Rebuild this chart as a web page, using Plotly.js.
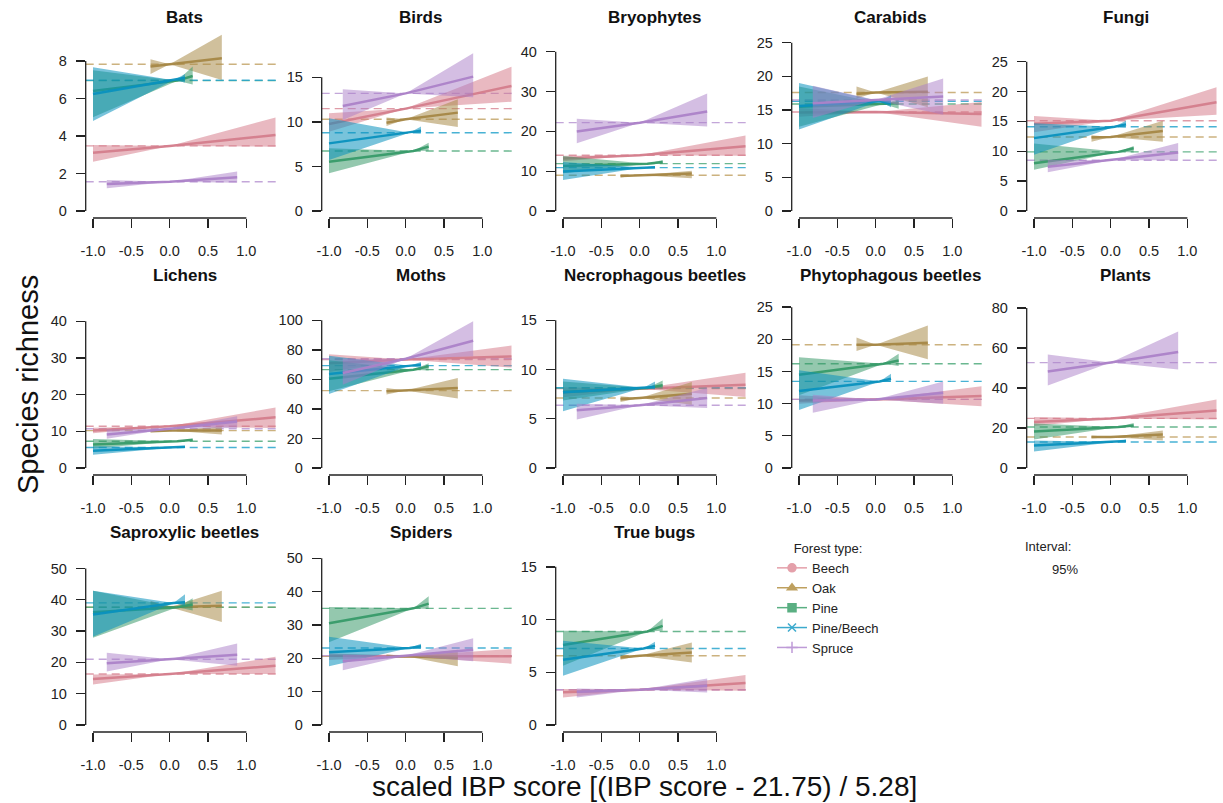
<!DOCTYPE html>
<html>
<head>
<meta charset="utf-8">
<script src="https://cdn.plot.ly/plotly-3.0.1.min.js"></script>
<style>html,body{margin:0;padding:0;background:#fff;}#chart{width:1223px;height:803px;}</style>
</head>
<body>
<div id="chart"></div>
<script>
// ---------------- DATA ----------------
const forestTypes = ['Beech', 'Oak', 'Pine', 'Pine/Beech', 'Spruce'];
// x extent of each forest type (scaled IBP score) and x where the CI is narrowest
const xStart = [-1.0, -0.25, -1.0, -1.0, -0.82];
const xEnd   = [1.38, 0.68, 0.30, 0.20, 0.88];
const xPivot = [0.0, 0.0, 0.1, 0.05, 0.0];

const xTickVals = [-1, -0.5, 0, 0.5, 1];
const xTickText = ['-1.0', '-0.5', '0.0', '0.5', '1.0'];

const panelNames = ['Bats', 'Birds', 'Bryophytes', 'Carabids', 'Fungi',
  'Lichens', 'Moths', 'Necrophagous beetles', 'Phytophagous beetles', 'Plants',
  'Saproxylic beetles', 'Spiders', 'True bugs'];
const yTickStep = [2, 5, 10, 5, 5, 10, 20, 5, 5, 20, 10, 10, 5];
const yTickMax  = [8, 15, 40, 25, 25, 40, 100, 15, 25, 80, 50, 50, 15];
const yLimMax   = [9.33, 19.64, 43.97, 26.0, 29.3, 47.7, 118.5, 17.78, 27.2, 87.5, 55.9, 52.5, 16.6];

// rows: Beech, Oak, Pine, Pine/Beech, Spruce
// cols: mean, line at start, line at end, CI low start, CI high start, CI low end, CI high end
const bats = [
  [3.47, 3.11, 4.05, 2.63, 3.52, 3.43, 4.98],
  [7.82, 7.70, 8.14, 7.31, 8.09, 6.99, 9.39],
  [6.95, 6.40, 7.20, 5.00, 7.50, 6.75, 7.70],
  [6.97, 6.24, 7.10, 4.80, 7.66, 6.85, 7.30],
  [1.56, 1.44, 1.80, 1.21, 1.65, 1.51, 2.10]];
const birds = [
  [11.49, 9.76, 14.03, 8.9, 10.96, 12.27, 16.2],
  [10.29, 9.9, 11.04, 9.54, 10.5, 9.43, 12.53],
  [6.73, 5.54, 7.22, 4.23, 7.03, 6.77, 7.67],
  [8.79, 7.59, 9.02, 5.72, 10.4, 8.72, 9.47],
  [13.2, 11.78, 15.08, 10.21, 13.65, 12.76, 17.7]];
const bryophytes = [
  [14.0, 13.2, 16.3, 12.5, 13.9, 13.9, 19.0],
  [9.0, 8.8, 9.4, 8.4, 9.2, 8.2, 10.1],
  [11.9, 11.3, 12.3, 9.5, 13.8, 11.8, 12.8],
  [10.9, 9.9, 11.0, 7.8, 12.3, 10.7, 11.3],
  [22.2, 20.0, 25.0, 17.0, 23.2, 21.2, 29.5]];
const carabids = [
  [14.7, 14.65, 14.4, 14.0, 15.3, 12.5, 16.2],
  [17.6, 17.4, 17.7, 16.7, 18.5, 15.4, 20.0],
  [15.9, 15.5, 16.0, 12.5, 18.5, 15.2, 16.6],
  [16.3, 15.6, 16.0, 12.1, 19.0, 15.4, 17.2],
  [16.5, 16.0, 17.0, 13.8, 18.6, 14.3, 19.7]];
const fungi = [
  [15.1, 14.6, 18.2, 13.2, 15.9, 16.1, 20.7],
  [12.4, 12.3, 13.4, 11.6, 12.7, 11.6, 15.1],
  [9.9, 8.0, 10.5, 6.9, 11.3, 9.8, 10.9],
  [14.1, 12.2, 14.5, 9.4, 14.7, 14.0, 15.1],
  [8.5, 7.4, 9.8, 6.5, 8.6, 8.5, 11.4]];
const lichens = [
  [11.4, 10.2, 13.8, 9.5, 11.0, 10.9, 16.5],
  [10.2, 10.0, 10.2, 9.8, 10.3, 9.1, 11.3],
  [7.3, 6.4, 7.7, 5.3, 7.9, 7.3, 8.0],
  [5.6, 4.7, 5.8, 3.6, 5.9, 5.6, 6.0],
  [10.7, 9.1, 12.7, 8.0, 10.5, 10.9, 14.1]];
const moths = [
  [73.5, 71, 75.5, 65, 77, 68, 83],
  [52.4, 51.9, 54.2, 49.7, 54.2, 47, 61],
  [66.6, 60.5, 68.8, 52, 73, 66, 71],
  [69.3, 63.7, 70, 50.1, 76, 67.7, 71.8],
  [74.0, 64.3, 86.2, 56.4, 74, 75.6, 99.3]];
const necrophagous = [
  [8.06, 7.7, 8.47, 7.2, 8.2, 7.21, 9.68],
  [7.11, 6.98, 7.55, 6.7, 7.3, 6.43, 8.74],
  [8.13, 7.72, 8.4, 6.87, 8.8, 8.06, 8.9],
  [8.16, 7.7, 8.23, 5.76, 9.07, 8.0, 8.8],
  [6.37, 5.86, 7.11, 4.94, 6.54, 6.1, 8.13]];
const phytophagous = [
  [10.66, 10.5, 11.18, 10.0, 11.3, 9.6, 12.7],
  [19.15, 19.15, 19.46, 18.2, 20.3, 16.9, 22.15],
  [16.2, 14.5, 16.7, 11.3, 17.2, 15.84, 17.75],
  [13.46, 11.96, 13.87, 9.0, 15.2, 13.35, 14.65],
  [10.66, 10.5, 11.7, 8.6, 11.4, 10.0, 13.46]];
const plants = [
  [24.8, 23.0, 28.8, 21, 25.5, 24.3, 34.2],
  [15.5, 15.5, 16.7, 14.8, 16.2, 13.8, 18.7],
  [20.5, 18.3, 21.3, 14.3, 22.2, 20.5, 22.5],
  [13.0, 11.3, 13.5, 8.3, 13.8, 12.7, 14.2],
  [52.7, 48.3, 58, 41.3, 56.7, 49.2, 68.3]];
const saproxylic = [
  [16.3, 14.7, 18.9, 12.9, 16.1, 16.3, 21.8],
  [37.6, 37.6, 38.1, 36.6, 39.7, 32.9, 42.9],
  [37.6, 36.0, 38.5, 27.9, 42.9, 36.6, 40.5],
  [39.0, 35.3, 39.2, 28.2, 42.9, 38.1, 41.8],
  [21.0, 19.7, 22.4, 17.1, 23.1, 18.9, 26.0]];
const spiders = [
  [20.6, 20.8, 20.6, 19.5, 21.5, 18.4, 22.8],
  [20.6, 20.5, 20.1, 20.0, 21.2, 17.6, 22.6],
  [35.0, 30.5, 36.4, 24.8, 35.4, 34.8, 38.6],
  [23.1, 21.8, 23.6, 17.6, 26.5, 22.8, 24.4],
  [20.8, 19.1, 22.6, 16.4, 21.1, 19.1, 26.0]];
const trueBugs = [
  [3.35, 3.1, 3.98, 2.62, 3.41, 3.25, 4.74],
  [6.57, 6.41, 6.88, 6.19, 6.63, 5.94, 7.83],
  [8.87, 7.58, 9.41, 5.62, 8.94, 8.94, 10.1],
  [7.26, 6.19, 7.52, 4.67, 7.99, 7.2, 7.9],
  [3.35, 3.16, 3.73, 2.62, 3.47, 3.09, 4.42]];

const panelData = [bats, birds, bryophytes, carabids, fungi, lichens, moths,
  necrophagous, phytophagous, plants, saproxylic, spiders, trueBugs];

// ---------------- STYLE ----------------
const lineColors = ['rgba(212,125,140,0.95)', 'rgba(165,135,70,0.95)', 'rgba(55,155,105,0.95)', 'rgba(10,145,190,0.95)', 'rgba(172,130,200,0.95)'];
const bandColors = ['rgba(212,115,132,0.50)', 'rgba(170,140,75,0.55)', 'rgba(50,150,100,0.52)', 'rgba(10,145,190,0.55)', 'rgba(170,125,200,0.50)'];
const dashColors = ['rgba(215,130,145,0.8)', 'rgba(195,165,105,0.85)', 'rgba(80,170,125,0.85)', 'rgba(40,165,205,0.85)', 'rgba(185,150,210,0.85)'];
const legendColors = ['rgb(228,160,170)', 'rgb(190,160,95)', 'rgb(90,175,130)', 'rgb(60,170,205)', 'rgb(190,155,215)'];
const symbols = ['circle', 'triangle-up', 'square', 'x-thin-open', 'cross-thin-open'];
const FONT = 'Liberation Sans, Arial, sans-serif';
const AX = '#222';

const W = 1223, H = 803;
const colLeft = [85.7, 321.7, 555.7, 791.7, 1026.7];
const plotW = 194.4;
const rowBottom = [218, 475, 732];
const plotH = 189;
const xRange = [-1.095, 1.44];

const traces = [];
const shapes = [];
const annotations = [];
const layout = {
  width: W, height: H,
  margin: {l: 0, r: 0, t: 0, b: 0},
  paper_bgcolor: '#fff', plot_bgcolor: 'rgba(0,0,0,0)',
  font: {family: FONT, color: AX},
  showlegend: true,
  legend: {
    x: 772 / W, y: 1 - 536 / H, xanchor: 'left', yanchor: 'top',
    bgcolor: 'rgba(0,0,0,0)',
    font: {family: FONT, size: 13, color: '#222'},
    title: {text: 'Forest type:', side: 'top center', font: {family: FONT, size: 13, color: '#222'}},
    tracegroupgap: 0, itemwidth: 30
  }
};

panelNames.forEach((name, i) => {
  const col = i % 5, row = Math.floor(i / 5);
  const xa = i === 0 ? 'x' : 'x' + (i + 1);
  const ya = i === 0 ? 'y' : 'y' + (i + 1);
  const left = colLeft[col], bottom = rowBottom[row], top = bottom - plotH;
  const M = yLimMax[i];
  const yTicks = [];
  for (let v = 0; v <= yTickMax[i] + 1e-9; v += yTickStep[i]) yTicks.push(v);

  layout['xaxis' + (i === 0 ? '' : i + 1)] = {
    domain: [left / W, Math.min(1, (left + plotW) / W)], anchor: ya, range: xRange,
    tickmode: 'array', tickvals: xTickVals, ticktext: xTickText,
    ticks: 'outside', ticklen: 9, tickwidth: 1.3, tickcolor: AX,
    showline: false, showgrid: false, zeroline: false, fixedrange: true,
    ticklabelstandoff: 11,
    tickfont: {family: FONT, size: 14.5, color: AX}
  };
  layout['yaxis' + (i === 0 ? '' : i + 1)] = {
    domain: [1 - bottom / H, 1 - top / H], anchor: xa, range: [-0.04 * M, 1.04 * M],
    tickmode: 'array', tickvals: yTicks, ticktext: yTicks.map(String),
    ticks: 'outside', ticklen: 9, tickwidth: 1.3, tickcolor: AX,
    showline: false, showgrid: false, zeroline: false, fixedrange: true,
    ticklabelstandoff: 6,
    tickfont: {family: FONT, size: 14.5, color: AX}
  };
  // R-style axis lines spanning only the tick range
  shapes.push({type: 'line', xref: xa, yref: ya + ' domain', x0: -1, x1: 1, y0: 0, y1: 0,
    line: {color: AX, width: 1.3}});
  shapes.push({type: 'line', xref: xa + ' domain', yref: ya, x0: 0, x1: 0, y0: 0, y1: yTickMax[i],
    line: {color: AX, width: 1.3}});
  // panel title
  annotations.push({text: '<b>' + name + '</b>', xref: 'paper', yref: 'paper',
    x: (left + 99) / W, y: 1 - (top - 11) / H, xanchor: 'center', yanchor: 'middle',
    showarrow: false, font: {family: FONT, size: 17, color: '#111'}});

  const d = panelData[i];
  d.forEach((r, k) => {
    const [mean, yL, yR, loL, hiL, loR, hiR] = r;
    // mean (dashed) line across the panel
    shapes.push({type: 'line', layer: 'below', xref: xa + ' domain', yref: ya, x0: 0, x1: 1, y0: mean, y1: mean,
      line: {color: dashColors[k], width: 1.4, dash: '8px,5px'}});
    // confidence band
    traces.push({
      type: 'scatter', mode: 'lines', xaxis: xa, yaxis: ya, showlegend: false, hoverinfo: 'skip',
      x: [xStart[k], xPivot[k], xEnd[k], xEnd[k], xPivot[k], xStart[k]],
      y: [hiL, mean, hiR, loR, mean, loL],
      fill: 'toself', fillcolor: bandColors[k], line: {width: 0}
    });
    // fitted line
    traces.push({
      type: 'scatter', mode: 'lines', xaxis: xa, yaxis: ya, showlegend: false, hoverinfo: 'skip',
      x: [xStart[k], xPivot[k], xEnd[k]], y: [yL, mean, yR],
      line: {color: lineColors[k], width: 2.5}
    });
  });
});

// legend entries
forestTypes.forEach((ft, k) => {
  traces.push({
    type: 'scatter', mode: 'lines+markers', name: ft, x: [null], y: [null], xaxis: 'x', yaxis: 'y',
    line: {color: legendColors[k], width: 1.5},
    marker: {symbol: symbols[k], size: 8, color: legendColors[k], line: {color: legendColors[k], width: 1.5}}
  });
});

annotations.push({text: 'Interval:', xref: 'paper', yref: 'paper', x: 1048 / W, y: 1 - 546 / H,
  xanchor: 'center', yanchor: 'middle', showarrow: false, font: {family: FONT, size: 13, color: '#222'}});
annotations.push({text: '95%', xref: 'paper', yref: 'paper', x: 1065 / W, y: 1 - 569 / H,
  xanchor: 'center', yanchor: 'middle', showarrow: false, font: {family: FONT, size: 13, color: '#222'}});
annotations.push({text: 'Species richness', xref: 'paper', yref: 'paper', x: 28 / W, y: 1 - 385 / H,
  xanchor: 'center', yanchor: 'middle', textangle: -90, showarrow: false,
  font: {family: FONT, size: 29, color: '#111'}});
annotations.push({text: 'scaled IBP score [(IBP score - 21.75) / 5.28]', xref: 'paper', yref: 'paper',
  x: 645 / W, y: 1 - 786 / H, xanchor: 'center', yanchor: 'middle', showarrow: false,
  font: {family: FONT, size: 28, color: '#111'}});

layout.shapes = shapes;
layout.annotations = annotations;

Plotly.newPlot('chart', traces, layout, {staticPlot: true, displayModeBar: false});
</script>
</body>
</html>
